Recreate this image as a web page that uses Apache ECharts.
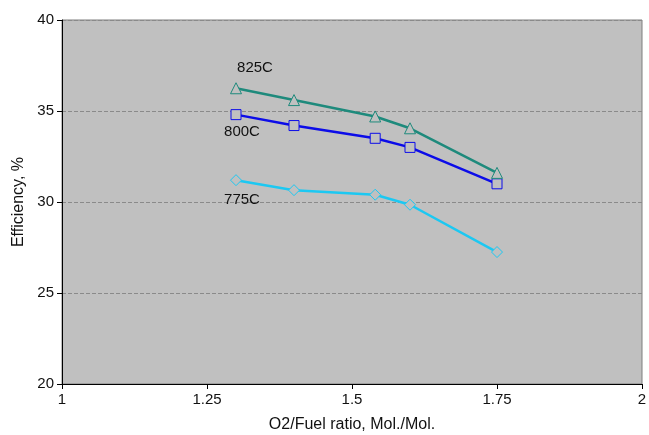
<!DOCTYPE html>
<html>
<head>
<meta charset="utf-8">
<script src="https://cdn.jsdelivr.net/npm/echarts@6/dist/echarts.min.js"></script>
<style>
  html, body { margin: 0; padding: 0; background: #fff; }
  #chart { width: 649px; height: 435px; }
</style>
</head>
<body>
<div id="chart"></div>
<script>
// O2/Fuel ratio values (x)
const ratios = [1.3, 1.4, 1.54, 1.6, 1.75]
// efficiency, % per temperature
const eff825 = [36.25, 35.6, 34.7, 34.05, 31.6]
const eff800 = [34.8, 34.2, 33.5, 33.0, 31.0]
const eff775 = [31.2, 30.65, 30.4, 29.85, 27.25]
const seriesNames = ['825C', '800C', '775C']

const colorList = ['#1e8a7c', '#0c0ce8', '#1cc8f2']
const symbols = ['triangle', 'rect', 'diamond']
// label offset from the first point of each series
const labelOffsets = [[19, -20], [6, 17], [6, 20]]

const chart = echarts.init(document.getElementById('chart'))
const font = 'Liberation Sans, Arial, sans-serif'

const allData = [eff825, eff800, eff775]
const seriesData = allData.map((vals, index) => ({
  name: seriesNames[index],
  type: 'line',
  symbol: symbols[index],
  symbolSize: index === 1 ? 10 : 11,
  data: vals.map((v, i) => {
    const item = { value: [ratios[i], v] }
    if (i === 0) {
      item.label = {
        show: true,
        formatter: seriesNames[index],
        position: 'inside',
        offset: labelOffsets[index],
        color: '#111',
        fontFamily: font,
        fontSize: 15
      }
    }
    return item
  }),
  itemStyle: {
    color: '#c0c0c0',
    borderColor: colorList[index],
    borderWidth: 1
  },
  lineStyle: {
    color: colorList[index],
    width: 2.5
  },
  animation: false,
  z: 3 - index
}))

chart.setOption({
  backgroundColor: '#fff',
  grid: {
    left: 62,
    right: 7,
    top: 20,
    bottom: 51,
    outerBoundsMode: 'none',
    show: true,
    backgroundColor: '#c0c0c0',
    borderColor: '#7f7f7f',
    borderWidth: 1
  },
  xAxis: {
    type: 'value',
    min: 1,
    max: 2,
    interval: 0.25,
    name: 'O2/Fuel ratio, Mol./Mol.',
    nameLocation: 'middle',
    nameGap: 33,
    nameTextStyle: { color: '#111', fontFamily: font, fontSize: 16 },
    axisLine: { lineStyle: { color: '#000', width: 1 } },
    axisTick: { show: true, length: 5, lineStyle: { color: '#000' } },
    axisLabel: { color: '#111', fontFamily: font, fontSize: 15, margin: 8 },
    splitLine: { show: false }
  },
  yAxis: {
    type: 'value',
    min: 20,
    max: 40,
    interval: 5,
    name: 'Efficiency, %',
    nameLocation: 'middle',
    nameGap: 35,
    nameTextStyle: { color: '#111', fontFamily: font, fontSize: 16 },
    axisLine: { show: true, lineStyle: { color: '#000', width: 1 } },
    axisTick: { show: true, length: 5, lineStyle: { color: '#000' } },
    axisLabel: { color: '#111', fontFamily: font, fontSize: 15, margin: 8 },
    splitLine: { show: true, lineStyle: { color: '#8a8a8a', type: 'dashed', width: 1 } }
  },
  series: seriesData
})
</script>
</body>
</html>
